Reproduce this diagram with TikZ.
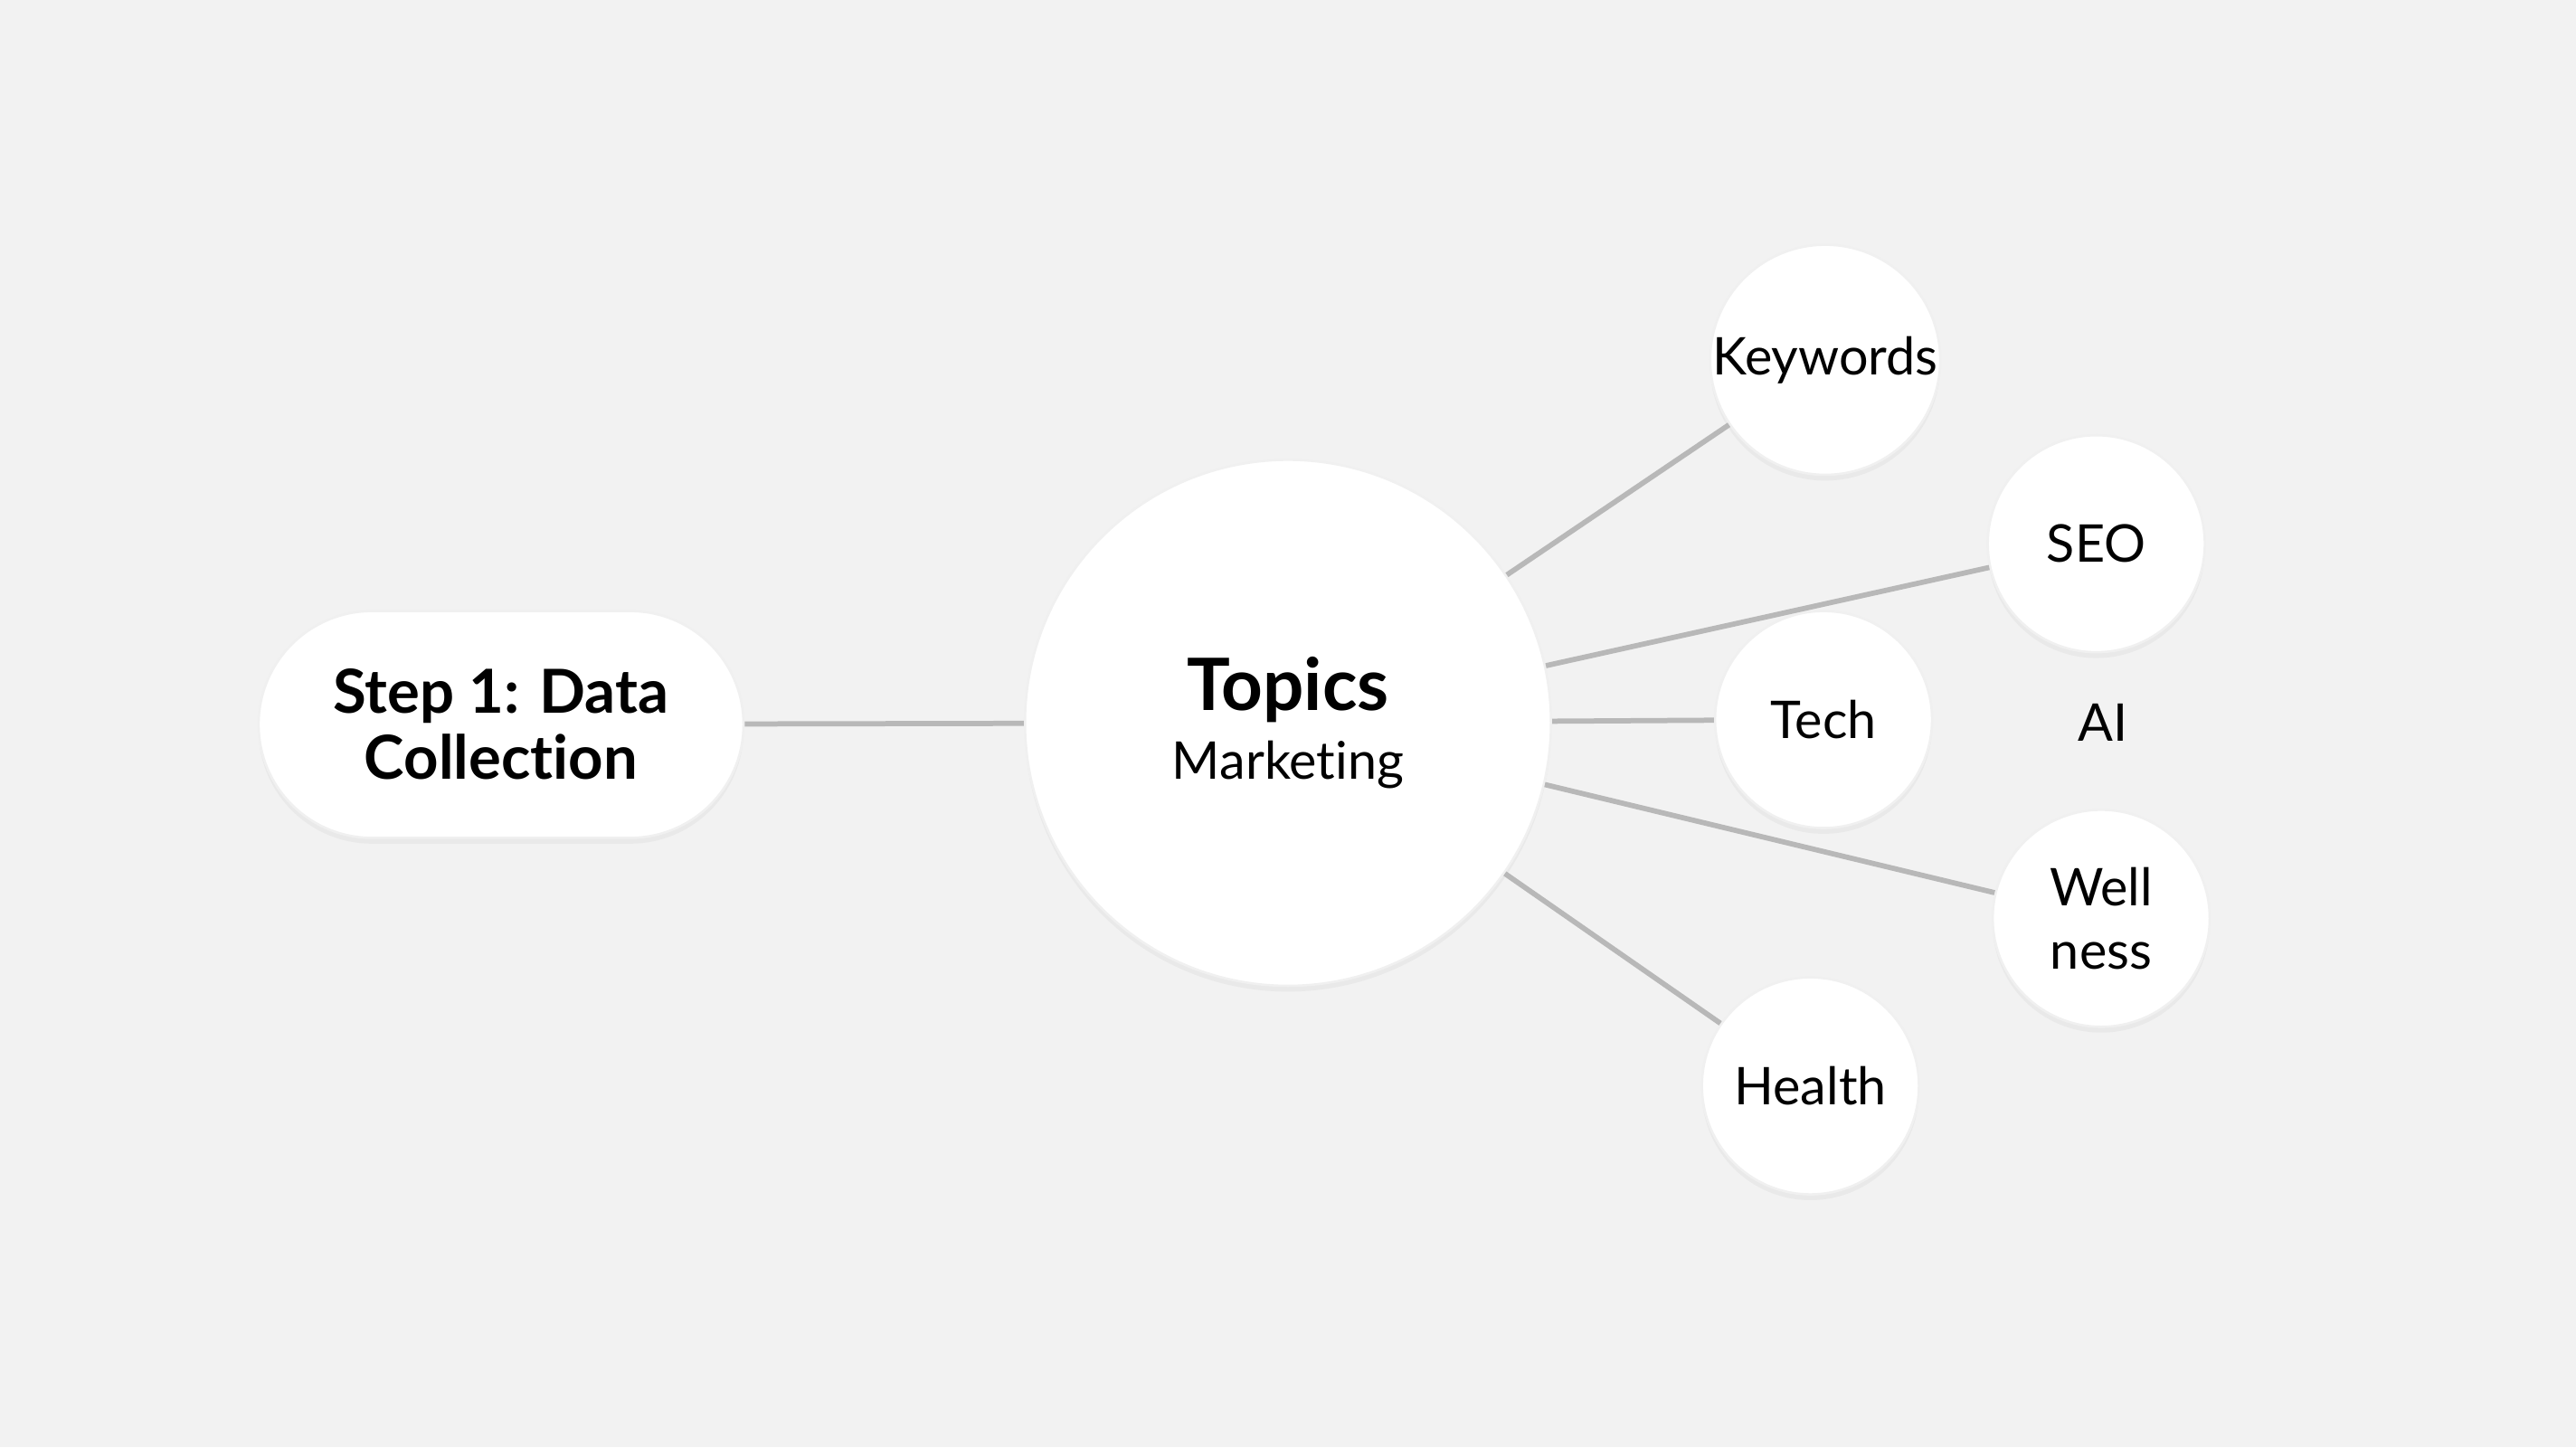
\documentclass[tikz,border=0pt]{standalone}
\usepackage{fontspec}
\setmainfont[Ligatures=NoCommon,Contextuals=NoAlternate]{Lato}
\usetikzlibrary{shadows}
\begin{document}
\begin{tikzpicture}[x=0.01cm,y=-0.01cm,
  bub/.style={circle,fill=white,draw=black!6,line width=0.4pt,minimum size=1.32cm,inner sep=0pt,align=center,font=\fontsize{9}{11}\selectfont,drop shadow={opacity=0.08,shadow xshift=0pt,shadow yshift=-1pt}},
  conn/.style={draw=black!28,line width=0.9pt}]
\fill[black!5] (0,0) rectangle (1568,881);
\useasboundingbox (0,0) rectangle (1568,881);
\node[fill=white,draw=black!6,rounded corners=0.69cm,minimum width=2.95cm,minimum height=1.38cm,align=center,font=\bfseries\fontsize{10.5}{11.5}\selectfont,drop shadow={opacity=0.08,shadow xshift=0pt,shadow yshift=-1pt}] (step) at (305,441) {Step 1: Data\\Collection};
\node[bub,minimum size=3.2cm] (topics) at (784,440) {{\bfseries\fontsize{12.5}{14}\selectfont Topics}\\[1pt]{\fontsize{9}{11}\selectfont Marketing}};
\node[bub,minimum size=1.34cm] (kw) at (1111,219) {Keywords};
\node[bub] (seo) at (1276,331) {SEO};
\node[bub] (tech) at (1110,438) {Tech};
\node[font=\fontsize{9}{11}\selectfont] (ai) at (1280,440) {AI};
\node[bub] (well) at (1279,559) {Well\\ness};
\node[bub] (health) at (1102,661) {Health};
\draw[conn] (step) -- (topics);
\draw[conn] (topics) -- (kw);
\draw[conn] (topics) -- (seo);
\draw[conn] (topics) -- (tech);
\draw[conn] (topics) -- (well);
\draw[conn] (topics) -- (health);
\end{tikzpicture}
\end{document}
